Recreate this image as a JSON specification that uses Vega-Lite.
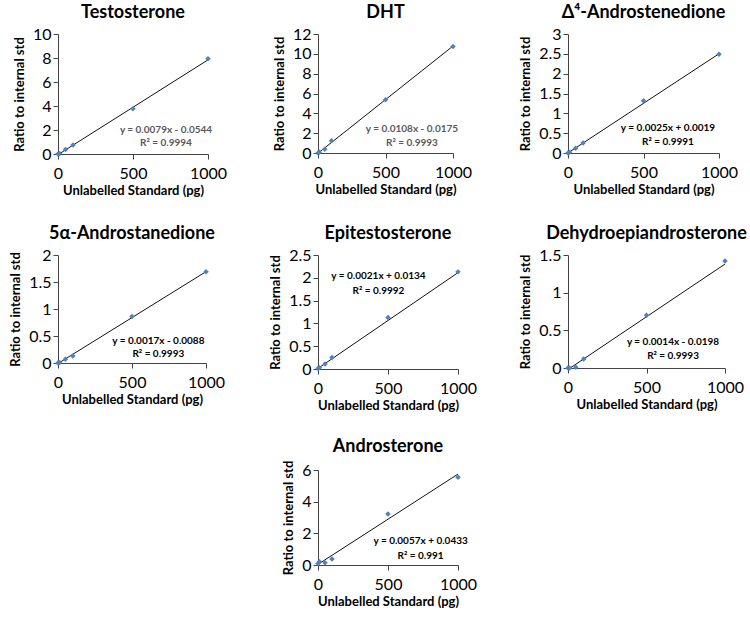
{
  "$schema": "https://vega.github.io/schema/vega-lite/v6.json",
  "padding": {"left": 9, "top": 4, "right": 5, "bottom": 2},
  "background": "white",
  "bounds": "flush",
  "align": "each",
  "columns": 3,
  "spacing": {"row": 101, "column": 110},
  "config": {
    "view": {"stroke": null},
    "font": "Lato",
    "title": {"font": "Lato", "fontSize": 18, "fontWeight": "bold", "color": "#000", "offset": 4},
    "axis": {
      "grid": false,
      "labelFont": "Lato", "labelFontSize": 16, "labelColor": "#000",
      "titleFont": "Lato", "titleFontSize": 13, "titleFontWeight": "bold", "titleColor": "#000",
      "domainColor": "#444", "tickColor": "#444", "tickSize": 5, "labelPadding": 2
    },
    "axisX": {"labelPadding": 6, "titlePadding": 3, "labelFlush": false},
    "axisY": {"titlePadding": 6}
  },
  "datasets": {
    "pts": [
      {"c": "T", "x": 0, "y": 0}, {"c": "T", "x": 10, "y": 0.05}, {"c": "T", "x": 50, "y": 0.38}, {"c": "T", "x": 100, "y": 0.75}, {"c": "T", "x": 500, "y": 3.78}, {"c": "T", "x": 1000, "y": 7.94},
      {"c": "DHT", "x": 0, "y": 0}, {"c": "DHT", "x": 10, "y": 0.08}, {"c": "DHT", "x": 50, "y": 0.37}, {"c": "DHT", "x": 100, "y": 1.24}, {"c": "DHT", "x": 500, "y": 5.36}, {"c": "DHT", "x": 1000, "y": 10.75},
      {"c": "A4", "x": 0, "y": 0}, {"c": "A4", "x": 10, "y": 0.02}, {"c": "A4", "x": 50, "y": 0.12}, {"c": "A4", "x": 100, "y": 0.25}, {"c": "A4", "x": 500, "y": 1.32}, {"c": "A4", "x": 1000, "y": 2.49},
      {"c": "5A", "x": 0, "y": 0}, {"c": "5A", "x": 10, "y": 0.01}, {"c": "5A", "x": 50, "y": 0.07}, {"c": "5A", "x": 100, "y": 0.13}, {"c": "5A", "x": 500, "y": 0.86}, {"c": "5A", "x": 1000, "y": 1.69},
      {"c": "EPI", "x": 0, "y": 0.01}, {"c": "EPI", "x": 10, "y": 0.03}, {"c": "EPI", "x": 50, "y": 0.11}, {"c": "EPI", "x": 100, "y": 0.25}, {"c": "EPI", "x": 500, "y": 1.13}, {"c": "EPI", "x": 1000, "y": 2.13},
      {"c": "DHEA", "x": 0, "y": 0}, {"c": "DHEA", "x": 10, "y": 0.0}, {"c": "DHEA", "x": 50, "y": 0.01}, {"c": "DHEA", "x": 100, "y": 0.12}, {"c": "DHEA", "x": 500, "y": 0.7}, {"c": "DHEA", "x": 1000, "y": 1.42},
      {"c": "AND", "x": 0, "y": 0.1}, {"c": "AND", "x": 10, "y": 0.2}, {"c": "AND", "x": 50, "y": 0.14}, {"c": "AND", "x": 100, "y": 0.38}, {"c": "AND", "x": 500, "y": 3.22}, {"c": "AND", "x": 1000, "y": 5.54}
    ],
    "fit": [
      {"c": "T", "x": 0, "y": -0.0544}, {"c": "T", "x": 1000, "y": 7.8456},
      {"c": "DHT", "x": 0, "y": -0.0175}, {"c": "DHT", "x": 1000, "y": 10.7825},
      {"c": "A4", "x": 0, "y": 0.0019}, {"c": "A4", "x": 1000, "y": 2.5019},
      {"c": "5A", "x": 0, "y": -0.0088}, {"c": "5A", "x": 1000, "y": 1.6912},
      {"c": "EPI", "x": 0, "y": 0.0134}, {"c": "EPI", "x": 1000, "y": 2.1134},
      {"c": "DHEA", "x": 0, "y": -0.0198}, {"c": "DHEA", "x": 1000, "y": 1.3802},
      {"c": "AND", "x": 0, "y": 0.0433}, {"c": "AND", "x": 1000, "y": 5.7433}
    ],
    "none": []
  },
  "concat": [
    {
      "width": 150, "height": 120,
      "title": "Testosterone",
      "encoding": {
        "x": {"field": "x", "type": "quantitative", "scale": {"domain": [0, 1000]}, "axis": {"values": [0, 500, 1000], "format": "d", "title": "Unlabelled Standard (pg)"}},
        "y": {"field": "y", "type": "quantitative", "scale": {"domain": [0, 10]}, "axis": {"values": [0, 2, 4, 6, 8, 10], "format": "~r", "title": "Ratio to internal std"}}
      },
      "layer": [
        {"data": {"name": "fit"}, "transform": [{"filter": "datum.c === 'T'"}], "mark": {"type": "line", "color": "#111", "strokeWidth": 1, "clip": true}},
        {"data": {"name": "pts"}, "transform": [{"filter": "datum.c === 'T'"}], "mark": {"type": "point", "shape": "diamond", "filled": true, "opacity": 1, "color": "#4F81BD", "size": 30}},
        {"data": {"values": [{"t": "y = 0.0079x - 0.0544", "ex": 720, "ey": 2.0}, {"t": "R² = 0.9994", "ex": 720, "ey": 0.92}]}, "mark": {"type": "text", "fontSize": 10, "fontWeight": "bold", "color": "#595959"}, "encoding": {"text": {"field": "t", "type": "nominal"}, "x": {"field": "ex", "type": "quantitative"}, "y": {"field": "ey", "type": "quantitative"}}}
      ]
    },
    {
      "width": 135, "height": 119,
      "title": "DHT",
      "encoding": {
        "x": {"field": "x", "type": "quantitative", "scale": {"domain": [0, 1000]}, "axis": {"values": [0, 500, 1000], "format": "d", "title": "Unlabelled Standard (pg)"}},
        "y": {"field": "y", "type": "quantitative", "scale": {"domain": [0, 12]}, "axis": {"values": [0, 2, 4, 6, 8, 10, 12], "format": "~r", "title": "Ratio to internal std"}}
      },
      "layer": [
        {"data": {"name": "fit"}, "transform": [{"filter": "datum.c === 'DHT'"}], "mark": {"type": "line", "color": "#111", "strokeWidth": 1, "clip": true}},
        {"data": {"name": "pts"}, "transform": [{"filter": "datum.c === 'DHT'"}], "mark": {"type": "point", "shape": "diamond", "filled": true, "opacity": 1, "color": "#4F81BD", "size": 30}},
        {"data": {"values": [{"t": "y = 0.0108x - 0.0175", "ex": 696, "ey": 2.42}, {"t": "R² = 0.9993", "ex": 696, "ey": 1.0}]}, "mark": {"type": "text", "fontSize": 10, "fontWeight": "bold", "color": "#595959"}, "encoding": {"text": {"field": "t", "type": "nominal"}, "x": {"field": "ex", "type": "quantitative"}, "y": {"field": "ey", "type": "quantitative"}}}
      ]
    },
    {
      "width": 151, "height": 119,
      "title": "Δ⁴-Androstenedione",
      "encoding": {
        "x": {"field": "x", "type": "quantitative", "scale": {"domain": [0, 1000]}, "axis": {"values": [0, 500, 1000], "format": "d", "title": "Unlabelled Standard (pg)"}},
        "y": {"field": "y", "type": "quantitative", "scale": {"domain": [0, 3]}, "axis": {"values": [0, 0.5, 1, 1.5, 2, 2.5, 3], "format": "~r", "title": "Ratio to internal std"}}
      },
      "layer": [
        {"data": {"name": "fit"}, "transform": [{"filter": "datum.c === 'A4'"}], "mark": {"type": "line", "color": "#111", "strokeWidth": 1, "clip": true}},
        {"data": {"name": "pts"}, "transform": [{"filter": "datum.c === 'A4'"}], "mark": {"type": "point", "shape": "diamond", "filled": true, "opacity": 1, "color": "#4F81BD", "size": 30}},
        {"data": {"values": [{"t": "y = 0.0025x + 0.0019", "ex": 662, "ey": 0.63}, {"t": "R² = 0.9991", "ex": 662, "ey": 0.28}]}, "mark": {"type": "text", "fontSize": 10, "fontWeight": "bold", "color": "#000"}, "encoding": {"text": {"field": "t", "type": "nominal"}, "x": {"field": "ex", "type": "quantitative"}, "y": {"field": "ey", "type": "quantitative"}}}
      ]
    },
    {
      "width": 148, "height": 108,
      "title": "5α-Androstanedione",
      "encoding": {
        "x": {"field": "x", "type": "quantitative", "scale": {"domain": [0, 1000]}, "axis": {"values": [0, 500, 1000], "format": "d", "title": "Unlabelled Standard (pg)"}},
        "y": {"field": "y", "type": "quantitative", "scale": {"domain": [0, 2]}, "axis": {"values": [0, 0.5, 1, 1.5, 2], "format": "~r", "title": "Ratio to internal std"}}
      },
      "layer": [
        {"data": {"name": "fit"}, "transform": [{"filter": "datum.c === '5A'"}], "mark": {"type": "line", "color": "#111", "strokeWidth": 1, "clip": true}},
        {"data": {"name": "pts"}, "transform": [{"filter": "datum.c === '5A'"}], "mark": {"type": "point", "shape": "diamond", "filled": true, "opacity": 1, "color": "#4F81BD", "size": 30}},
        {"data": {"values": [{"t": "y = 0.0017x - 0.0088", "ex": 678, "ey": 0.4}, {"t": "R² = 0.9993", "ex": 678, "ey": 0.16}]}, "mark": {"type": "text", "fontSize": 10, "fontWeight": "bold", "color": "#000"}, "encoding": {"text": {"field": "t", "type": "nominal"}, "x": {"field": "ex", "type": "quantitative"}, "y": {"field": "ey", "type": "quantitative"}}}
      ]
    },
    {
      "width": 140, "height": 114,
      "title": "Epitestosterone",
      "encoding": {
        "x": {"field": "x", "type": "quantitative", "scale": {"domain": [0, 1000]}, "axis": {"values": [0, 500, 1000], "format": "d", "title": "Unlabelled Standard (pg)"}},
        "y": {"field": "y", "type": "quantitative", "scale": {"domain": [0, 2.5]}, "axis": {"values": [0, 0.5, 1, 1.5, 2, 2.5], "format": "~r", "title": "Ratio to internal std"}}
      },
      "layer": [
        {"data": {"name": "fit"}, "transform": [{"filter": "datum.c === 'EPI'"}], "mark": {"type": "line", "color": "#111", "strokeWidth": 1, "clip": true}},
        {"data": {"name": "pts"}, "transform": [{"filter": "datum.c === 'EPI'"}], "mark": {"type": "point", "shape": "diamond", "filled": true, "opacity": 1, "color": "#4F81BD", "size": 30}},
        {"data": {"values": [{"t": "y = 0.0021x + 0.0134", "ex": 432, "ey": 2.04}, {"t": "R² = 0.9992", "ex": 432, "ey": 1.72}]}, "mark": {"type": "text", "fontSize": 10, "fontWeight": "bold", "color": "#000"}, "encoding": {"text": {"field": "t", "type": "nominal"}, "x": {"field": "ex", "type": "quantitative"}, "y": {"field": "ey", "type": "quantitative"}}}
      ]
    },
    {
      "width": 157, "height": 113,
      "title": "Dehydroepiandrosterone",
      "encoding": {
        "x": {"field": "x", "type": "quantitative", "scale": {"domain": [0, 1000]}, "axis": {"values": [0, 500, 1000], "format": "d", "title": "Unlabelled Standard (pg)"}},
        "y": {"field": "y", "type": "quantitative", "scale": {"domain": [0, 1.5]}, "axis": {"values": [0, 0.5, 1, 1.5], "format": "~r", "title": "Ratio to internal std"}}
      },
      "layer": [
        {"data": {"name": "fit"}, "transform": [{"filter": "datum.c === 'DHEA'"}], "mark": {"type": "line", "color": "#111", "strokeWidth": 1, "clip": true}},
        {"data": {"name": "pts"}, "transform": [{"filter": "datum.c === 'DHEA'"}], "mark": {"type": "point", "shape": "diamond", "filled": true, "opacity": 1, "color": "#4F81BD", "size": 30}},
        {"data": {"values": [{"t": "y = 0.0014x - 0.0198", "ex": 669, "ey": 0.345}, {"t": "R² = 0.9993", "ex": 669, "ey": 0.16}]}, "mark": {"type": "text", "fontSize": 10, "fontWeight": "bold", "color": "#000"}, "encoding": {"text": {"field": "t", "type": "nominal"}, "x": {"field": "ex", "type": "quantitative"}, "y": {"field": "ey", "type": "quantitative"}}}
      ]
    },
    {
      "width": 10, "height": 10,
      "data": {"name": "none"},
      "mark": {"type": "text"},
      "encoding": {}
    },
    {
      "width": 140, "height": 95,
      "title": "Androsterone",
      "encoding": {
        "x": {"field": "x", "type": "quantitative", "scale": {"domain": [0, 1000]}, "axis": {"values": [0, 500, 1000], "format": "d", "title": "Unlabelled Standard (pg)"}},
        "y": {"field": "y", "type": "quantitative", "scale": {"domain": [0, 6]}, "axis": {"values": [0, 2, 4, 6], "format": "~r", "title": "Ratio to internal std"}}
      },
      "layer": [
        {"data": {"name": "fit"}, "transform": [{"filter": "datum.c === 'AND'"}], "mark": {"type": "line", "color": "#111", "strokeWidth": 1, "clip": true}},
        {"data": {"name": "pts"}, "transform": [{"filter": "datum.c === 'AND'"}], "mark": {"type": "point", "shape": "diamond", "filled": true, "opacity": 1, "color": "#4F81BD", "size": 30}},
        {"data": {"values": [{"t": "y = 0.0057x + 0.0433", "ex": 733, "ey": 1.52}, {"t": "R² = 0.991", "ex": 733, "ey": 0.57}]}, "mark": {"type": "text", "fontSize": 10, "fontWeight": "bold", "color": "#000"}, "encoding": {"text": {"field": "t", "type": "nominal"}, "x": {"field": "ex", "type": "quantitative"}, "y": {"field": "ey", "type": "quantitative"}}}
      ]
    }
  ]
}
